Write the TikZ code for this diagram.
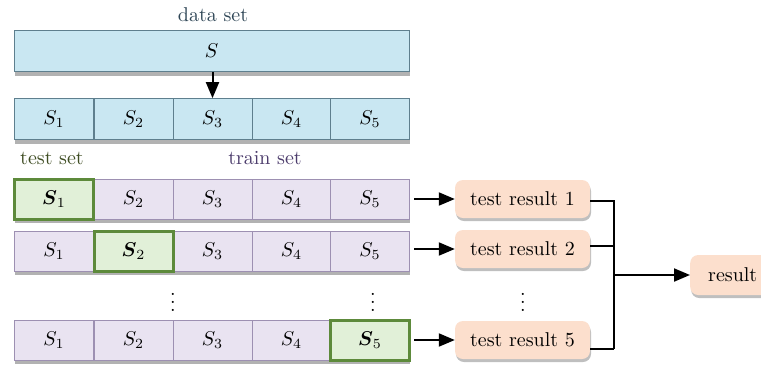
\documentclass[tikz,border=0pt]{standalone}
\usepackage{amsmath,amsbsy,graphicx}
\usetikzlibrary{shadows,arrows.meta}
\definecolor{bluefill}{HTML}{C9E7F2}
\definecolor{blueline}{HTML}{5E7F8E}
\definecolor{purfill}{HTML}{E9E3F1}
\definecolor{purline}{HTML}{9D90B2}
\definecolor{grfill}{HTML}{E1F0D8}
\definecolor{grline}{HTML}{5D8A3B}
\definecolor{peach}{HTML}{FCDFCD}
\definecolor{dstext}{HTML}{2F4656}
\definecolor{tstext}{HTML}{3E4C22}
\definecolor{trtext}{HTML}{4B3B6B}
\newcommand{\bigtx}[1]{\scalebox{2.0}{#1}}
\tikzset{
  rowshadow/.style={drop shadow={shadow xshift=0.5pt, shadow yshift=-4pt, fill=black, opacity=0.3}},
  bluerow/.style={draw=blueline, fill=bluefill, line width=0.8pt, rectangle, inner sep=0pt, rowshadow},
  purrow/.style={draw=purline, fill=purfill, line width=0.8pt, rectangle, inner sep=0pt, rowshadow},
  bluecell/.style={draw=blueline, fill=bluefill, line width=0.7pt, rectangle, inner sep=0pt, minimum width=79pt, minimum height=41pt},
  purcell/.style={draw=purline, fill=purfill, line width=0.7pt, rectangle, inner sep=0pt, minimum width=79pt, minimum height=40pt},
  grcell/.style={draw=grline, fill=grfill, line width=3pt, rectangle, inner sep=0pt, minimum width=79pt, minimum height=40pt},
  resbox/.style={fill=peach, rounded corners=8pt, inner sep=0pt, minimum width=135pt, minimum height=38pt, drop shadow={shadow xshift=1pt, shadow yshift=-3pt, fill=black, opacity=0.25}},
  conn/.style={line width=2pt, black},
  arr/.style={conn, -{Triangle[length=16pt, width=13pt]}},
  vdotsnode/.style={inner sep=0pt}
}
\begin{document}
\begin{tikzpicture}[x=1pt, y=-1pt]
\useasboundingbox (0,0) rectangle (761,368);
% data set
\node[text=dstext] (dslabel) at (213,15) {\bigtx{data set}};
\node[bluerow, minimum width=395pt, minimum height=41pt] (S) at (211.5,51) {\bigtx{$S$}};
% split row
\node[bluerow, minimum width=395pt, minimum height=41pt] (r0) at (211.5,119) {};
\foreach \i/\x in {1/54,2/133.5,3/212.5,4/291.5,5/370}
  \node[bluecell] (r0c\i) at (\x,119) {\bigtx{$S_{\i}$}};
\draw[arr] (S.south -| r0c3) -- (r0c3.north);
% labels
\node[text=tstext] (tslabel) at (52,158) {\bigtx{test set}};
\node[text=trtext] (trlabel) at (265,158) {\bigtx{train set}};
% fold rows
\foreach \r/\y in {1/199,2/251,5/340}{
  \node[purrow, minimum width=395pt, minimum height=40pt] (r\r) at (211.5,\y) {};
  \foreach \i/\x in {1/54,2/133.5,3/212.5,4/291.5,5/370}{
    \ifnum\i=\r
      \node[grcell] (r\r c\i) at (\x,\y) {};
    \else
      \node[purcell] (r\r c\i) at (\x,\y) {\bigtx{$S_{\i}$}};
    \fi
  }
}
% green cells drawn on top of neighbours
\foreach \r/\y/\x in {1/199/54,2/251/133.5,5/340/370}
  \node[grcell] (g\r) at (\x,\y) {\bigtx{$\boldsymbol{S}_{\r}$}};
% dots
\node[vdotsnode] (d1) at (173,296) {\bigtx{$\vdots$}};
\node[vdotsnode] (d2) at (373,296) {\bigtx{$\vdots$}};
\node[vdotsnode] (d3) at (523,296) {\bigtx{$\vdots$}};
% results
\node[resbox] (t1) at (522.5,199) {\bigtx{test result 1}};
\node[resbox] (t2) at (522.5,249) {\bigtx{test result 2}};
\node[resbox] (t5) at (522.5,340) {\bigtx{test result 5}};
\foreach \r/\t in {1/t1,2/t2,5/t5}
  \draw[arr] ([xshift=5pt]r\r.east |- \t.west) -- (\t.west);
\node[resbox, minimum height=40pt, anchor=west, inner xsep=18pt, text width=100pt, align=left] (res) at (690,275) {\bigtx{result}};
\coordinate (j) at (614,275);
\draw[conn] ([yshift=-2pt]t1.east) -- ++(24,0) coordinate (a1) -- (a1 |- {(0,349)}) coordinate (a5);
\draw[conn] ([yshift=3pt]t2.east) -- (j |- {(0,246)});
\draw[conn] ([yshift=-9pt]t5.east) -- (a5);
\draw[arr] (j) -- (res.west);
\end{tikzpicture}
\end{document}
